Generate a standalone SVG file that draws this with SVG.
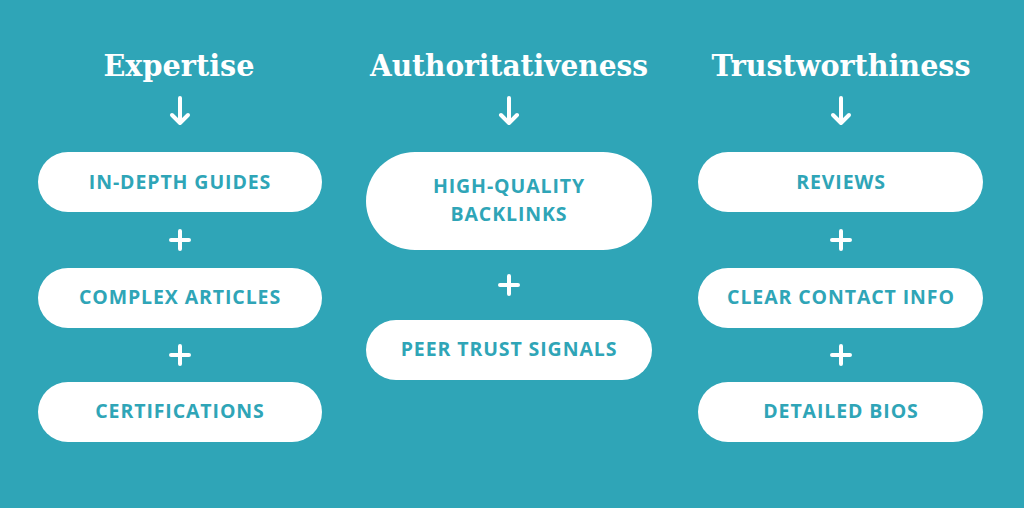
<svg xmlns="http://www.w3.org/2000/svg" width="1024" height="508" viewBox="0 0 1024 508">
<style>
.h{font-family:"DejaVu Serif","Liberation Serif",serif;font-weight:bold;font-size:29px;fill:#fff;text-anchor:middle}
.p{fill:#fff}
.t{font-family:"Open Sans","Liberation Sans",sans-serif;font-weight:bold;font-size:19.5px;letter-spacing:0.9px;fill:#2fa5b7;text-anchor:middle}
.c{stroke:#fff;stroke-width:4;stroke-linecap:round;stroke-linejoin:round;fill:none}
</style>
<rect width="1024" height="508" fill="#2fa5b7"/>
<text class="h" x="179" y="76" textLength="151" lengthAdjust="spacingAndGlyphs">Expertise</text>
<text class="h" x="509" y="76" textLength="278" lengthAdjust="spacingAndGlyphs">Authoritativeness</text>
<text class="h" x="841" y="76" textLength="259" lengthAdjust="spacingAndGlyphs">Trustworthiness</text>
<g id="connectors" class="c">
<path d="M180 98v24M172 115l8 8 8-8"/>
<path d="M509 98v24M501 115l8 8 8-8"/>
<path d="M841 98v24M833 115l8 8 8-8"/>
<path d="M180 231v18M171 240h18M180 346v18M171 355h18"/>
<path d="M509 276v18M500 285h18"/>
<path d="M841 231v18M832 240h18M841 346v18M832 355h18"/>
</g>
<g id="n1"><rect class="p" x="38" y="152" width="284" height="60" rx="30"/><text class="t" x="180" y="189">IN-DEPTH GUIDES</text></g>
<g id="n2"><rect class="p" x="38" y="268" width="284" height="60" rx="30"/><text class="t" x="180" y="304">COMPLEX ARTICLES</text></g>
<g id="n3"><rect class="p" x="38" y="382" width="284" height="60" rx="30"/><text class="t" x="180" y="418">CERTIFICATIONS</text></g>
<g id="n4"><rect class="p" x="366" y="152" width="286" height="98" rx="49"/><text class="t" x="509" y="193">HIGH-QUALITY</text><text class="t" x="509" y="221">BACKLINKS</text></g>
<g id="n5"><rect class="p" x="366" y="320" width="286" height="60" rx="30"/><text class="t" x="509" y="356">PEER TRUST SIGNALS</text></g>
<g id="n6"><rect class="p" x="698" y="152" width="285" height="60" rx="30"/><text class="t" x="841" y="189">REVIEWS</text></g>
<g id="n7"><rect class="p" x="698" y="268" width="285" height="60" rx="30"/><text class="t" x="841" y="304">CLEAR CONTACT INFO</text></g>
<g id="n8"><rect class="p" x="698" y="382" width="285" height="60" rx="30"/><text class="t" x="841" y="418">DETAILED BIOS</text></g>
</svg>
